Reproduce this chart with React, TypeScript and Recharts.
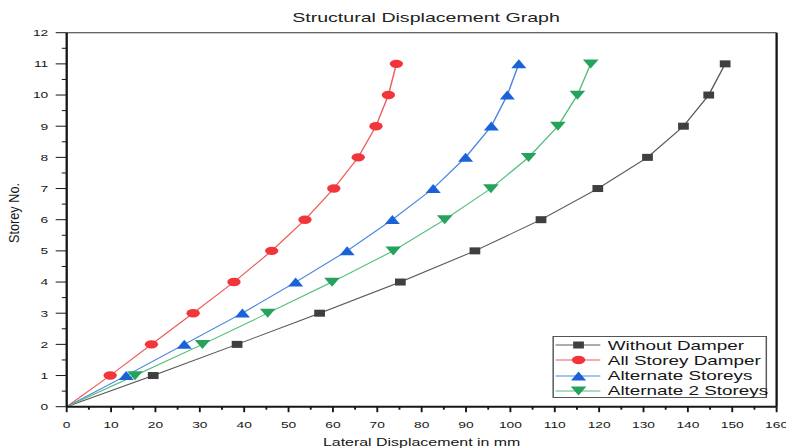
import React from 'react'
import {
  LineChart,
  Line,
  XAxis,
  YAxis,
  Legend,
  Label,
  ReferenceLine,
} from 'recharts'

// storey levels and lateral displacement (mm) for each damper layout
const storeys = [0, 1, 2, 3, 4, 5, 6, 7, 8, 9, 10, 11]
const withoutDamper = [0, 19.5, 38.4, 57.0, 75.2, 92.0, 106.9, 119.7, 130.9, 139.0, 144.7, 148.4]
const allStoreyDamper = [0, 9.8, 19.1, 28.5, 37.7, 46.2, 53.7, 60.2, 65.7, 69.7, 72.5, 74.3]
const alternateStoreys = [0, 13.4, 26.5, 39.6, 51.6, 63.2, 73.4, 82.6, 89.9, 95.7, 99.3, 101.9]
const alternate2Storeys = [0, 15.4, 30.6, 45.3, 59.8, 73.6, 85.2, 95.6, 104.1, 110.7, 115.1, 118.1]

const xMajorTicks = [0, 10, 20, 30, 40, 50, 60, 70, 80, 90, 100, 110, 120, 130, 140, 150, 160]
const yMajorTicks = [0, 1, 2, 3, 4, 5, 6, 7, 8, 9, 10, 11, 12]

// the whole figure is drawn narrow and stretched sideways
const STRETCH = 1.45
const W = 542
const H = 448
const FONT = '"Liberation Sans", Arial, sans-serif'
const INK = '#161616'

type MarkerKind = 'square' | 'circle' | 'up' | 'down'

const series = [
  { name: 'Without Damper', values: withoutDamper, marker: 'square' as MarkerKind, line: '#5a5a5a', fill: '#3f3f3f' },
  { name: 'All Storey Damper', values: allStoreyDamper, marker: 'circle' as MarkerKind, line: '#f05a5a', fill: '#f2353b' },
  { name: 'Alternate Storeys', values: alternateStoreys, marker: 'up' as MarkerKind, line: '#4a88e0', fill: '#1a62d8' },
  { name: 'Alternate 2 Storeys', values: alternate2Storeys, marker: 'down' as MarkerKind, line: '#55bd7c', fill: '#25a35d' },
]

const withHalves = (major: number[], step: number) => {
  const out: number[] = []
  major.forEach((v, i) => {
    out.push(v)
    if (i < major.length - 1) out.push(v + step)
  })
  return out
}
const xTicks = withHalves(xMajorTicks, 5)
const yTicks = withHalves(yMajorTicks, 0.5)

const Marker = ({ kind, cx, cy, color }: { kind: MarkerKind; cx: number; cy: number; color: string }) => {
  if (kind === 'square') return <rect x={cx - 3.7} y={cy - 3.5} width={7.4} height={7} fill={color} />
  if (kind === 'circle') return <ellipse cx={cx} cy={cy} rx={4.6} ry={4.2} fill={color} />
  if (kind === 'up')
    return <polygon points={`${cx},${cy - 4.6} ${cx + 5.2},${cy + 4.4} ${cx - 5.2},${cy + 4.4}`} fill={color} />
  return <polygon points={`${cx},${cy + 4.6} ${cx + 5.4},${cy - 4.4} ${cx - 5.4},${cy - 4.4}`} fill={color} />
}

const XTick = ({ x, y, payload }: any) => {
  const major = payload.value % 10 === 0
  return (
    <g>
      <line x1={x} x2={x} y1={y} y2={y + (major ? 5.5 : 3)} stroke={INK} strokeWidth={1.3} />
      {major && (
        <text x={x} y={y + 21.3} textAnchor='middle' fontSize={9.5} fill={INK}>
          {payload.value}
        </text>
      )}
    </g>
  )
}

const YTick = ({ x, y, payload }: any) => {
  const major = Number.isInteger(payload.value)
  return (
    <g>
      <line x1={x} x2={x - (major ? 7.6 : 3.4)} y1={y} y2={y} stroke={INK} strokeWidth={1} />
      {major && (
        <text x={33.3} y={y + 3.4} textAnchor='end' fontSize={9.5} fill={INK}>
          {payload.value}
        </text>
      )}
    </g>
  )
}

const LegendBox = () => (
  <div
    style={{
      width: 148,
      height: 62,
      boxSizing: 'border-box',
      border: '1px solid #555',
      background: '#fff',
      paddingTop: 1,
    }}
  >
    {series.map((s) => (
      <div key={s.name} style={{ display: 'flex', alignItems: 'center', height: 15.2 }}>
        <svg width={32} height={12} style={{ marginLeft: 1, flexShrink: 0 }}>
          <line x1={0} x2={31} y1={6} y2={6} stroke={s.line} strokeWidth={1} />
          <Marker kind={s.marker} cx={16} cy={6} color={s.fill} />
        </svg>
        <span style={{ marginLeft: 4, fontSize: 13, color: INK, whiteSpace: 'nowrap', lineHeight: '13px' }}>
          {s.name}
        </span>
      </div>
    ))}
  </div>
)

export default function App() {
  return (
    <div
      style={{
        position: 'absolute',
        left: 0,
        top: 0,
        width: W,
        height: H,
        transform: `scaleX(${STRETCH})`,
        transformOrigin: '0 0',
        background: '#fff',
        fontFamily: FONT,
        overflow: 'hidden',
      }}
    >
      <div
        style={{
          position: 'absolute',
          left: 143.8,
          top: 10.6,
          width: 300,
          textAlign: 'center',
          fontSize: 13.5,
          lineHeight: '13.5px',
          color: '#222',
          whiteSpace: 'nowrap',
        }}
      >
        Structural Displacement Graph
      </div>
      <LineChart width={W} height={H} margin={{ top: 32.7, right: 6.4, bottom: 0, left: 0 }}>
        <XAxis
          type='number'
          dataKey='disp'
          domain={[0, 160]}
          ticks={xTicks}
          interval={0}
          height={41.3}
          tickSize={0}
          tickMargin={0}
          tickLine={false}
          tick={<XTick />}
          axisLine={{ stroke: INK, strokeWidth: 2 }}
          allowDataOverflow
        >
          <Label
            content={({ viewBox }: any) => (
              <text
                x={viewBox.x + viewBox.width / 2}
                y={viewBox.y + 39.3}
                textAnchor='middle'
                fontSize={11}
                fill={INK}
              >
                Lateral Displacement in mm
              </text>
            )}
          />
        </XAxis>
        <YAxis
          type='number'
          domain={[0, 12]}
          ticks={yTicks}
          interval={0}
          width={46}
          tickSize={0}
          tickMargin={0}
          tickLine={false}
          tick={<YTick />}
          axisLine={{ stroke: INK, strokeWidth: 1.6 }}
          allowDataOverflow
        >
          <Label
            content={() => (
              <text
                transform='translate(9.7,213) scale(0.78,1) rotate(-90)'
                textAnchor='middle'
                dominantBaseline='central'
                fontSize={12.7}
                fill={INK}
              >
                Storey No.
              </text>
            )}
          />
        </YAxis>
        <ReferenceLine y={12} stroke='#333' strokeWidth={1} />
        <ReferenceLine x={160} stroke={INK} strokeWidth={1.6} />
        {series.map((s) => (
          <Line
            key={s.name}
            name={s.name}
            data={storeys.map((storey, i) => ({ disp: s.values[i], storey }))}
            dataKey='storey'
            type='linear'
            stroke={s.line}
            strokeWidth={1}
            activeDot={false}
            isAnimationActive={false}
            dot={(p: any) =>
              p.index === 0 ? (
                <g key={`${s.name}-${p.index}`} />
              ) : (
                <Marker key={`${s.name}-${p.index}`} kind={s.marker} cx={p.cx} cy={p.cy} color={s.fill} />
              )
            }
          />
        ))}
        <Legend
          layout='horizontal'
          verticalAlign='middle'
          align='center'
          wrapperStyle={{ left: 381.2, top: 335.7, width: 148, height: 62 }}
          content={() => <LegendBox />}
        />
      </LineChart>
    </div>
  )
}
